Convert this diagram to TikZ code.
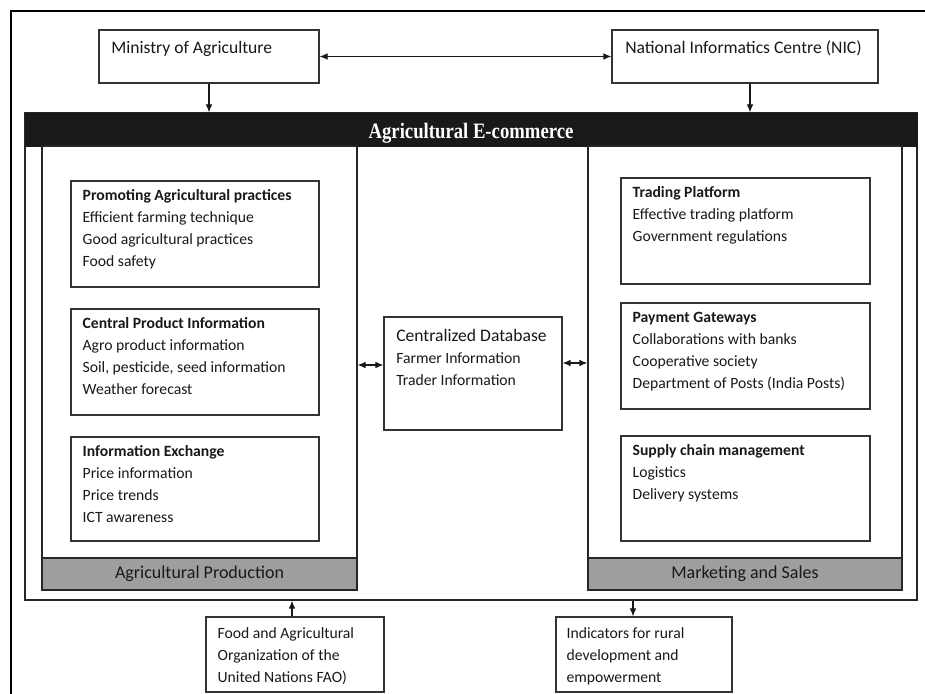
\documentclass[tikz,border=0pt]{standalone}
\usepackage{fontspec}
\setmainfont{Carlito}
\newfontfamily\hdrfont[FakeStretch=0.85]{Liberation Serif}
\usetikzlibrary{arrows.meta,fit,calc}
\newcommand\tstrut{\rule{0pt}{9.5pt}}
\begin{document}
\begin{tikzpicture}[x=0.75pt,y=-0.75pt,
 box/.style={draw=black!80, line width=0.9pt, inner sep=0pt, fill=white},
 col/.style={draw=black!85, line width=1pt, inner sep=0pt},
 foot/.style={draw=black!85, line width=1pt, fill=black!38, inner sep=0pt},
 body/.style={anchor=north west, inner sep=0pt, align=left, text=black!90, font=\fontsize{11.75pt}{16.5pt}\selectfont},
 big/.style={inner sep=0pt, text=black!90, font=\fontsize{13.2pt}{16pt}\selectfont},
 foottext/.style={inner sep=0pt, text=black!90, font=\fontsize{13.5pt}{16pt}\selectfont},
 tip/.tip={Latex[length=6pt,width=5pt]},
 arr/.style={-tip, line width=0.8pt, black!90},
 dbl/.style={tip-tip, line width=0.8pt, black!90},
]
\useasboundingbox (0,0) rectangle (925,693);
\clip (0,0) rectangle (925,693);
\draw[line width=1.8pt] (11,11) rectangle (940,710);

% top boxes
\node[box, fit={(99,30) (319,83)}] (min) {};
\node[big, anchor=base west] (mint) at (111,53) {Ministry of Agriculture};
\node[box, fit={(612,30) (878,83)}] (nic) {};
\node[big, anchor=base west] (nict) at (625,53) {National Informatics Centre (NIC)};

% e-commerce frame
\node[col, fit={(25,113) (917,600)}] (ecom) {};
\node[fill=black!90, draw=black!90, inner sep=0pt, fit={(25,113) (917,146)}] (bar) {};
\node[text=white, inner sep=0pt, font=\hdrfont\bfseries\fontsize{16.5pt}{18pt}\selectfont, anchor=base] (bart) at (471,138.5) {Agricultural E-commerce};

% columns
\node[col, fit={(42,146) (357,590)}] (lcol) {};
\node[foot, fit={(42,558) (357,590)}] (lfoot) {};
\node[foottext] (lfoott) at (lfoot.center) {Agricultural Production};
\node[col, fit={(588,146) (902,590)}] (rcol) {};
\node[foot, fit={(588,558) (902,590)}] (rfoot) {};
\node[foottext] (rfoott) at (rfoot.center) {Marketing and Sales};

% left boxes
\node[box, fit={(71,181) (319,287)}] (pap) {};
\node[body] (papt) at ([shift={(12,7)}]pap.north west) {\tstrut\textbf{Promoting Agricultural practices}\\Efficient farming technique\\Good agricultural practices\\Food safety};
\node[box, fit={(71,309) (319,415)}] (cpi) {};
\node[body] (cpit) at ([shift={(12,7)}]cpi.north west) {\tstrut\textbf{Central Product Information}\\Agro product information\\Soil, pesticide, seed information\\Weather forecast};
\node[box, fit={(71,437) (319,541)}] (iex) {};
\node[body] (iext) at ([shift={(12,7)}]iex.north west) {\tstrut\textbf{Information Exchange}\\Price information\\Price trends\\ICT awareness};

% right boxes
\node[box, fit={(621,178) (870,284)}] (trp) {};
\node[body] (trpt) at ([shift={(12,7)}]trp.north west) {\tstrut\textbf{Trading Platform}\\Effective trading platform\\Government regulations};
\node[box, fit={(621,303) (870,409)}] (pay) {};
\node[body] (payt) at ([shift={(12,7)}]pay.north west) {\tstrut\textbf{Payment Gateways}\\Collaborations with banks\\Cooperative society\\Department of Posts (India Posts)};
\node[box, fit={(621,436) (870,541)}] (scm) {};
\node[body] (scmt) at ([shift={(12,7)}]scm.north west) {\tstrut\textbf{Supply chain management}\\Logistics\\Delivery systems};

% central database
\node[box, fit={(384,317) (562,430)}] (db) {};
\node[big, anchor=base west] (dbtitle) at (396,341) {Centralized Database};
\node[body] (dbt) at (396,350.3) {\tstrut Farmer Information\\Trader Information};

% bottom boxes
\node[box, fit={(206,617) (384,692)}] (fao) {};
\node[body] (faot) at ([shift={(12,9.5)}]fao.north west) {\tstrut Food and Agricultural\\Organization of the\\United Nations FAO)};
\node[box, fit={(556,617) (732,692)}] (ind) {};
\node[body] (indt) at ([shift={(11,9.5)}]ind.north west) {\tstrut Indicators for rural\\development and\\empowerment};

% connectors
\coordinate (la) at (0,365);
\coordinate (ra) at (0,363);
\coordinate (na) at (750,0);
\coordinate (fa) at (292,0);
\coordinate (ia) at (633,0);
\draw[dbl] (min.east) -- (nic.west);
\draw[arr] (min.south) -- (min.south |- ecom.north);
\draw[arr] (nic.south -| na) -- (ecom.north -| na);
\draw[dbl] (lcol.east |- la) -- (db.west |- la);
\draw[dbl] (db.east |- ra) -- (rcol.west |- ra);
\draw[arr] (fao.north -| fa) -- (ecom.south -| fa);
\draw[arr] (ecom.south -| ia) -- (ind.north -| ia);
\end{tikzpicture}
\end{document}
